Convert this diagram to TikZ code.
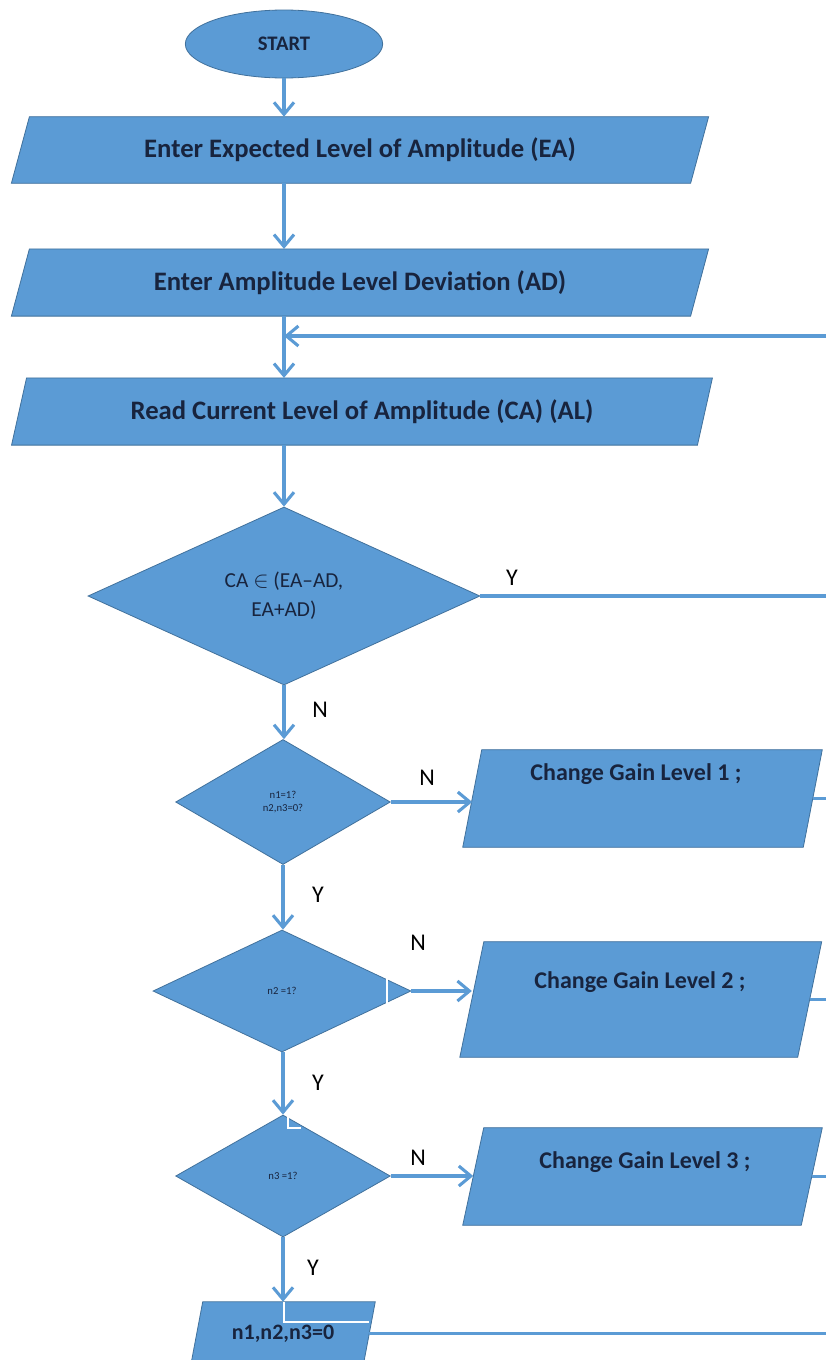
\documentclass[tikz,border=0pt]{standalone}
\usepackage{fontspec}
\setmainfont{Carlito}
\usetikzlibrary{shapes.geometric,arrows.meta}

\definecolor{flowblue}{RGB}{91,155,213}
\definecolor{flowedge}{RGB}{65,113,156}
\definecolor{flowtext}{RGB}{24,36,62}

\pgfdeclarelayer{paper}
\pgfdeclarelayer{shapes}
\pgfsetlayers{paper,shapes,main}

\tikzset{
  flowline/.style={draw=flowblue, line width=2.3pt},
  flowarrow/.style={flowline, -{Straight Barb[length=9pt,width=15pt]}},
  gapline/.style={draw=white, line width=1.6pt},
  iospot/.style={rectangle, inner sep=0pt, text=flowtext, font=\fontsize{20}{22}\selectfont\bfseries},
  decision/.style={diamond, fill=flowblue, draw=flowedge, line width=0.6pt,
    inner sep=0pt, align=center, text=flowtext},
  terminal/.style={ellipse, fill=flowblue, draw=flowedge, line width=0.6pt, inner sep=0pt,
    text=flowtext, font=\fontsize{15.5}{18}\selectfont\bfseries},
  boxlabel/.style={inner sep=0pt, text=flowtext, font=\fontsize{18}{20}\selectfont\bfseries},
  yesno/.style={inner sep=0pt, text=black, font=\fontsize{18}{20}\selectfont},
}

% parallelogram round a named node: node, half slant
\newcommand{\ioshape}[2]{%
  \begin{pgfonlayer}{shapes}
  \fill [flowblue, draw=flowedge, line width=0.6pt]
    ([xshift=#2*0.75pt]#1.north west) -- ([xshift=#2*0.75pt]#1.north east)
    -- ([xshift=-#2*0.75pt]#1.south east) -- ([xshift=-#2*0.75pt]#1.south west) -- cycle;
  \end{pgfonlayer}}

\begin{document}
\begin{tikzpicture}[x=0.75pt,y=0.75pt,yscale=-1,xscale=1]
\begin{pgfonlayer}{paper}
\fill[white] (0,0) rectangle (826,1360);
\end{pgfonlayer}
\useasboundingbox (0,0) rectangle (826,1360);

% Start
\node [terminal, minimum width=148pt, minimum height=51pt] (start) at (284,44) {START};

% Input boxes
\node [iospot, minimum width=509pt, minimum height=49.5pt] (ea) at (360,150) {Enter Expected Level of Amplitude (EA)};
\ioshape{ea}{9}
\node [iospot, minimum width=509pt, minimum height=50pt] (ad) at (360,282.5) {Enter Amplitude Level Deviation (AD)};
\ioshape{ad}{9}
\node [iospot, minimum width=514pt, minimum height=50pt] (ca) at (362,411.5) {Read Current Level of Amplitude (CA) (AL)};
\ioshape{ca}{7.5}

% Decisions
\node [decision, minimum width=294pt, minimum height=133.5pt,
  font=\fontsize{16}{22}\selectfont] (inrange) at (284,596) {CA $\in$ (EA--AD,\\EA+AD)};
\node [decision, minimum width=161pt, minimum height=93.75pt,
  font=\fontsize{8}{10}\selectfont] (gaina) at (283,802) {n1=1?\\n2,n3=0?};
\node [decision, minimum width=193.5pt, minimum height=91.5pt,
  font=\fontsize{8}{10}\selectfont] (gainb) at (282,991) {n2 =1?};
\node [decision, minimum width=161pt, minimum height=91.5pt,
  font=\fontsize{8}{10}\selectfont] (gainc) at (283,1176) {n3 =1?};

% Gain boxes
\node [iospot, minimum width=255pt, minimum height=72.75pt] (cga) at (642.5,798.5) {};
\ioshape{cga}{9.5}
\node [boxlabel] (cgatxt) at (636,774) {Change Gain Level 1 ;};
\node [iospot, minimum width=253pt, minimum height=86.25pt] (cgb) at (640.75,999.5) {};
\ioshape{cgb}{12}
\node [boxlabel] (cgbtxt) at (640,982) {Change Gain Level 2 ;};
\node [iospot, minimum width=253.5pt, minimum height=72.75pt] (cgc) at (642.5,1176.5) {};
\ioshape{cgc}{10.5}
\node [boxlabel] (cgctxt) at (645,1162) {Change Gain Level 3 ;};

% Reset box
\node [iospot, minimum width=129pt, minimum height=47.25pt, font=\fontsize{16.5}{20}\selectfont\bfseries]
  (reset) at (283,1333.5) {\raisebox{-3pt}{n1,n2,n3=0}};
\ioshape{reset}{6}

% Right edge
\coordinate (loopin) at (826,336);

% Straight Lines
\draw [flowarrow] (start.south) -- (start.south |- ea.north);
\draw [flowarrow] (ea.south -| start) -- (ad.north -| start);
\draw [flowarrow] (ad.south -| start) -- (ca.north -| start);
\draw [flowarrow] (loopin) -- (loopin -| start);
\draw [flowarrow] (ca.south -| start) -- (inrange.north);
\draw [flowline] (inrange.east) -- (inrange.east -| loopin);
\draw [flowarrow] (inrange.south) -- (inrange.south |- gaina.north);
\draw [flowarrow] (gaina.east) -- (gaina.east -| cga.west);
\draw [flowline] (cga.east) -- (cga.east -| loopin);
\draw [flowarrow] (gaina.south) -- (gaina.south |- gainb.north);
\draw [flowarrow] (gainb.east) -- (gainb.east -| cgb.west);
\draw [flowline] (cgb.east) -- (cgb.east -| loopin);
\draw [flowarrow] (gainb.south -| gaina) -- (gainc.north);
\draw [flowarrow] (gainc.east) -- (gainc.east -| cgc.west);
\draw [flowline] (cgc.east) -- (cgc.east -| loopin);
\draw [flowarrow] (gainc.south) -- (gainc.south |- reset.north);
\draw [flowline] (reset.east) -- (reset.east -| loopin);

% white gaps
\draw [gapline] ([xshift=-18pt,yshift=-11pt]gainb.east) -- ([xshift=-18pt,yshift=11pt]gainb.east);
\draw [gapline] ([xshift=4pt]gainc.north) -- ++(0,13) -- ++(13,0);
\draw [gapline] (reset.north -| start) -- ++(0,20) coordinate (rgap) -- (rgap -| reset.east);

% Text Node
\node [yesno] (ylab) at (512,578) {Y};
\node [yesno] (nlaba) at (320,710) {N};
\node [yesno] (nlabb) at (427,778) {N};
\node [yesno] (ylabb) at (318,895) {Y};
\node [yesno] (nlabc) at (418,943) {N};
\node [yesno] (ylabc) at (318,1083) {Y};
\node [yesno] (nlabd) at (418,1158) {N};
\node [yesno] (ylabd) at (313,1268) {Y};
\end{tikzpicture}
\end{document}
